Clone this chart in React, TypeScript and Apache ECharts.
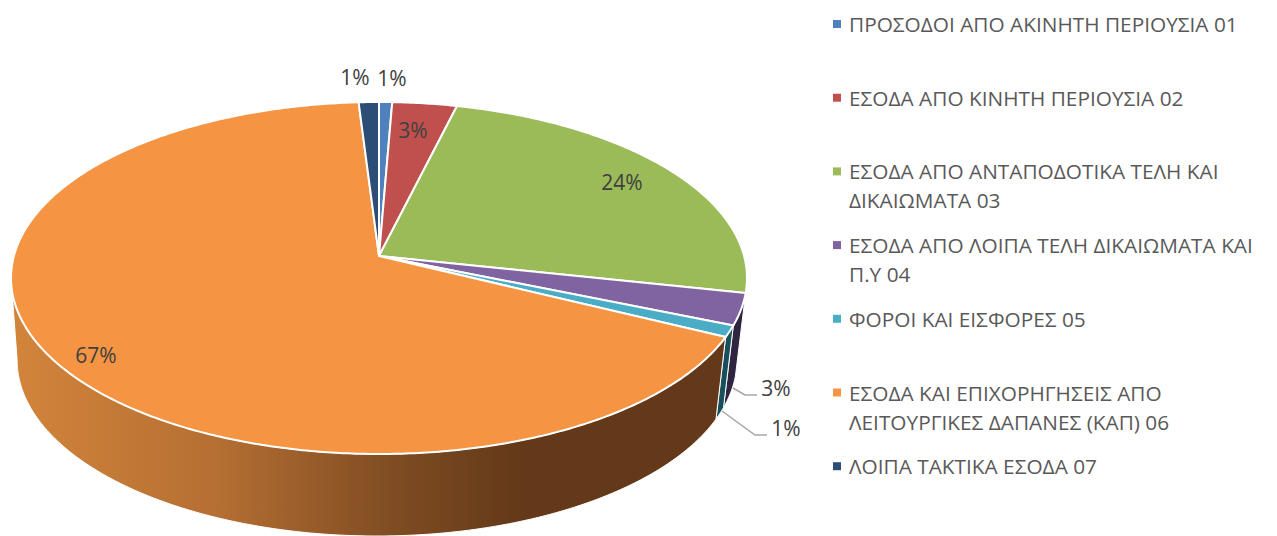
import React, { useEffect, useRef } from "react";
import * as echarts from "echarts";

const categories = [
  "ΠΡΟΣΟΔΟΙ ΑΠΟ ΑΚΙΝΗΤΗ ΠΕΡΙΟΥΣΙΑ 01",
  "ΕΣΟΔΑ ΑΠΟ ΚΙΝΗΤΗ ΠΕΡΙΟΥΣΙΑ 02",
  "ΕΣΟΔΑ ΑΠΟ ΑΝΤΑΠΟΔΟΤΙΚΑ ΤΕΛΗ ΚΑΙ\nΔΙΚΑΙΩΜΑΤΑ 03",
  "ΕΣΟΔΑ ΑΠΟ ΛΟΙΠΑ ΤΕΛΗ ΔΙΚΑΙΩΜΑΤΑ ΚΑΙ\nΠ.Υ 04",
  "ΦΟΡΟΙ ΚΑΙ ΕΙΣΦΟΡΕΣ 05",
  "ΕΣΟΔΑ ΚΑΙ ΕΠΙΧΟΡΗΓΗΣΕΙΣ ΑΠΟ\nΛΕΙΤΟΥΡΓΙΚΕΣ ΔΑΠΑΝΕΣ (ΚΑΠ) 06",
  "ΛΟΙΠΑ ΤΑΚΤΙΚΑ ΕΣΟΔΑ 07",
];
const values = [0.65, 3.2, 24.49, 2.9, 1.05, 66.71, 1.0];
const topColors = ["#4f81bd", "#c0504d", "#9bbb59", "#8064a2", "#4bacc6", "#f59544", "#2c4d75"];
const wallColors = ["#26405e", "#5f2625", "#4d5d2c", "#2f2541", "#17505c", "#633919", "#16263a"];

// label centre and optional leader line, by slice
const labelLayout: { x: number; y: number; line?: number[][] }[] = [
  { x: 392, y: 78 },
  { x: 413, y: 130 },
  { x: 622, y: 182 },
  { x: 776, y: 388, line: [[733, 388], [745, 395], [757, 395]] },
  { x: 786, y: 428, line: [[722, 411], [755, 435], [767, 435]] },
  { x: 96, y: 355 },
  { x: 355, y: 77 },
];

const FONT = '"Open Sans", sans-serif';
const CX = 379;
const CY = 256;
const A = 365.1;
const B = 173.25;
const K = 0.125;
const DEPTH = 82;
const BOTTOM_CX = 377;
const BOTTOM_X_SCALE = 0.978;

const total = values.reduce((s, v) => s + v, 0);
const startAngles: number[] = [];
values.reduce((acc, v, i) => {
  startAngles[i] = (acc / total) * Math.PI * 2;
  return acc + v;
}, 0);

function top(t: number): number[] {
  const w = 1 + K * Math.cos(t);
  return [CX + (A * Math.sin(t)) / w, CY - (B * Math.cos(t)) / w];
}
function bottom(t: number): number[] {
  const w = 1 + K * Math.cos(t);
  return [BOTTOM_CX + (A * BOTTOM_X_SCALE * Math.sin(t)) / w, CY + DEPTH - (B * Math.cos(t)) / w];
}
function arc(fn: (t: number) => number[], a: number, b: number): number[][] {
  const n = Math.max(2, Math.ceil(Math.abs(b - a) / 0.01));
  const pts: number[][] = [];
  for (let i = 0; i <= n; i++) pts.push(fn(a + ((b - a) * i) / n));
  return pts;
}

const WALL_START = Math.acos(-K);
const WALL_END = Math.PI * 2 - WALL_START;

function renderItem(params: any, api: any) {
  const i = params.dataIndex;
  const a0 = startAngles[i];
  const a1 = a0 + (api.value(0) / total) * Math.PI * 2;
  const children: any[] = [];

  const w0 = Math.max(a0, WALL_START);
  const w1 = Math.min(a1, WALL_END);
  if (w1 > w0) {
    const isLarge = w1 - w0 > 1;
    const fill = isLarge
      ? new echarts.graphic.LinearGradient(15, 0, 520, 0, [
          { offset: 0, color: "#d2843a" },
          { offset: 0.4, color: "#b56f33" },
          { offset: 0.75, color: "#7f4c22" },
          { offset: 1, color: wallColors[i] },
        ], true)
      : wallColors[i];
    children.push({
      type: "polygon",
      shape: { points: [...arc(top, w0, w1), ...arc(bottom, w1, w0)] },
      style: { fill, stroke: "#ffffff", lineWidth: 1 },
    });
  }

  children.push({
    type: "polygon",
    z2: 5,
    shape: { points: [[CX, CY], ...arc(top, a0, a1)] },
    style: { fill: topColors[i], stroke: "#ffffff", lineWidth: 2, lineJoin: "round" },
  });

  const lay = labelLayout[i];
  if (lay.line) {
    children.push({
      type: "polyline",
      z2: 6,
      shape: { points: lay.line },
      style: { fill: "none", stroke: "#a6a6a6", lineWidth: 1.5 },
    });
  }
  children.push({
    type: "text",
    z2: 7,
    style: {
      text: Math.round((api.value(0) / total) * 100) + "%",
      x: lay.x,
      y: lay.y,
      align: "center",
      verticalAlign: "middle",
      fill: "#404040",
      font: `21px ${FONT}`,
    },
  });
  return { type: "group", children };
}

const legendGraphics = categories.flatMap((name, i) => {
  const y = 25 + i * 73.7;
  return [
    { type: "rect", shape: { x: 833, y: y - 5, width: 8, height: 8 }, style: { fill: topColors[i] } },
    {
      type: "text",
      style: {
        text: name,
        x: 849,
        y: y - 15.5,
        fill: "#595959",
        font: `20.8px ${FONT}`,
        lineHeight: 29,
      },
    },
  ];
});

export default function App() {
  const ref = useRef<HTMLDivElement>(null);
  useEffect(() => {
    document.body.style.margin = "0";
    const chart = echarts.init(ref.current!, null, { renderer: "svg" });
    chart.setOption({
      animation: false,
      backgroundColor: "#ffffff",
      graphic: legendGraphics,
      series: [
        {
          type: "custom",
          coordinateSystem: "none",
          renderItem,
          silent: true,
          clip: false,
          data: values.map((v) => [v]),
        },
      ],
    });
    return () => chart.dispose();
  }, []);
  return <div ref={ref} style={{ width: 1277, height: 536 }} />;
}
